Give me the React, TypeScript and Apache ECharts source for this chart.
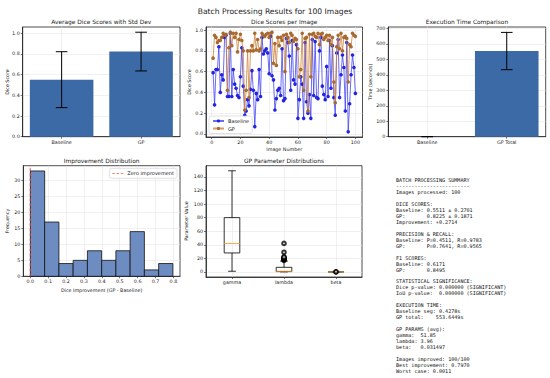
import React, { useEffect, useRef } from 'react';
import * as echarts from 'echarts';

const W = 550;
const H = 378;

// ---------- data ----------
const diceCategories = ['Baseline', 'GP'];
const diceMeans = [0.5511, 0.8225];
const diceStds = [0.2701, 0.1871];

const timeCategories = ['Baseline', 'GP Total'];
const timeMeans = [0.4278, 553.6449];
const timeStds = [0.05, 120.5];

const baselineDice = [
  0.59, 0.28, 0.62, 0.62, 0.84, 0.40, 0.57, 0.52, 0.93, 0.95,
  0.36, 0.36, 0.97, 0.36, 0.62, 0.48, 0.44, 0.37, 0.35, 0.55,
  0.83, 0.46, 0.18, 0.22, 0.33, 0.27, 0.43, 0.61, 0.42, 0.07,
  0.39, 0.33, 0.62, 0.36, 0.93, 0.77, 0.80, 0.82, 0.78, 0.58,
  0.94, 0.56, 0.52, 0.23, 0.34, 0.42, 0.44, 0.37, 0.82, 0.32,
  0.34, 0.92, 0.88, 0.75, 0.42, 0.90, 0.52, 0.48, 0.86, 0.15,
  0.33, 0.55, 0.48, 0.15, 0.88, 0.31, 0.20, 0.38, 0.15, 0.91,
  0.37, 0.89, 0.35, 0.34, 0.80, 0.93, 0.46, 0.38, 0.33, 0.65,
  0.36, 0.90, 0.44, 0.85, 0.35, 0.18, 0.78, 0.91, 0.35, 0.57,
  0.76, 0.64, 0.22, 0.88, 0.02, 0.29, 0.57, 0.76, 0.64, 0.39,
];

const gpDice = [
  0.73, 0.95, 0.93, 0.88, 0.90, 0.90, 0.93, 0.97, 0.95, 0.96,
  0.42, 0.83, 0.98, 0.85, 0.97, 0.93, 0.97, 0.79, 0.91, 0.96,
  0.90, 0.80, 0.23, 0.42, 0.80, 0.35, 0.80, 0.85, 0.80, 0.97,
  0.81, 0.91, 0.80, 0.82, 0.97, 0.95, 0.94, 0.96, 0.97, 0.93,
  0.97, 0.98, 0.68, 0.87, 0.66, 0.93, 0.85, 0.93, 0.90, 0.95,
  0.60, 0.96, 0.93, 0.88, 0.97, 0.95, 0.89, 0.92, 0.91, 0.82,
  0.55, 0.62, 0.97, 0.42, 0.92, 0.93, 0.22, 0.96, 0.55, 0.96,
  0.97, 0.94, 0.93, 0.97, 0.86, 0.96, 0.97, 0.91, 0.93, 0.95,
  0.90, 0.95, 0.86, 0.93, 0.50, 0.30, 0.84, 0.95, 0.82, 0.97,
  0.80, 0.93, 0.94, 0.92, 0.50, 0.86, 0.84, 0.97, 0.95, 0.94,
];

const histEdges = [0.0011, 0.0807, 0.1603, 0.2399, 0.3195, 0.3991, 0.4786, 0.5582, 0.6378, 0.7174, 0.797];
const histCounts = [33, 17, 4, 5, 8, 5, 8, 14, 2, 4];

const paramNames = ['gamma', 'lambda', 'beta'];
// [min, q1, median, q3, max]
const paramBoxStats = [
  [1, 28, 42, 80, 149],
  [0.1, 0.5, 1.0, 6.8, 16],
  [0.005, 0.02, 0.03, 0.04, 0.06],
];
const paramOutliers = [
  [],
  [17, 18, 18.6, 19.2, 19.8, 20.5, 21.3, 22, 29, 42],
  [0.12, 0.2],
];

const diceTicks = [0, 0.2, 0.4, 0.6, 0.8, 1.0];
const imageTicks = [0, 20, 40, 60, 80, 100];
const timeTicks = [0, 100, 200, 300, 400, 500, 600, 700];
const histXTicks = [0, 0.1, 0.2, 0.3, 0.4, 0.5, 0.6, 0.7, 0.8];
const histYTicks = [0, 5, 10, 15, 20, 25, 30];
const paramTicks = [0, 20, 40, 60, 80, 100, 120, 140];

const summaryLines = [
  'BATCH PROCESSING SUMMARY',
  '------------------------',
  'Images processed: 100',
  '',
  'DICE SCORES:',
  'Baseline: 0.5511 ± 0.2701',
  'GP:       0.8225 ± 0.1871',
  'Improvement: +0.2714',
  '',
  'PRECISION & RECALL:',
  'Baseline: P=0.4511, R=0.9783',
  'GP:       P=0.7641, R=0.9565',
  '',
  'F1 SCORES:',
  'Baseline: 0.6171',
  'GP:       0.8495',
  '',
  'STATISTICAL SIGNIFICANCE:',
  'Dice p-value: 0.000000 (SIGNIFICANT)',
  'IoU p-value:  0.000000 (SIGNIFICANT)',
  '',
  'EXECUTION TIME:',
  'Baseline seg: 0.4278s',
  'GP total:    553.6449s',
  '',
  'GP PARAMS (avg):',
  'gamma:  51.85',
  'lambda: 3.96',
  'beta:   0.031497',
  '',
  'Images improved: 100/100',
  'Best improvement: 0.7970',
  'Worst case: 0.0011',
];

// ---------- style helpers ----------
const FONT = 'DejaVu Sans';
const TXT = '#222';
const BAR = '#3b6aa6';
const HIST = '#6d8dc2';
const TICK_FS = 4.8;

const grids = [
  { left: 22.7, top: 27, width: 157.3, height: 109.7 },
  { left: 206, top: 27, width: 156.5, height: 110 },
  { left: 388.3, top: 27, width: 157.4, height: 109.7 },
  { left: 23.3, top: 165.7, width: 156.7, height: 110.6 },
  { left: 206, top: 165.7, width: 156, height: 111.3 },
];

function vAxis(gridIndex: number, min: number, max: number, ticks: number[], fmt: (v: number) => string) {
  return {
    type: 'value',
    gridIndex,
    min,
    max,
    axisLine: { show: true, onZero: false, lineStyle: { color: TXT, width: 0.8 } },
    axisTick: { show: true, length: 2, customValues: ticks, lineStyle: { color: TXT, width: 0.6 } },
    axisLabel: {
      show: true,
      customValues: ticks,
      formatter: (v: number) => fmt(v),
      fontSize: TICK_FS,
      color: TXT,
      margin: 3,
      fontFamily: FONT,
    },
    splitLine: { show: true, lineStyle: { color: '#e6e6e6', width: 0.6 } },
  };
}

const f1 = (v: number) => v.toFixed(1);
const f0 = (v: number) => String(Math.round(v));

function barRender(color: string) {
  return (params: any, api: any) => {
    const i = api.value(0);
    const v = api.value(1);
    const p0 = api.coord([i - 0.4, v]);
    const p1 = api.coord([i + 0.4, 0]);
    return {
      type: 'rect',
      shape: { x: p0[0], y: p0[1], width: p1[0] - p0[0], height: p1[1] - p0[1] },
      style: { fill: color },
    };
  };
}

function errRender(params: any, api: any) {
  const i = api.value(0);
  const lo = api.coord([i, api.value(1)]);
  const hi = api.coord([i, api.value(2)]);
  const c = 5.8;
  const st = { stroke: '#000', lineWidth: 1 };
  return {
    type: 'group',
    children: [
      { type: 'line', shape: { x1: lo[0], y1: lo[1], x2: hi[0], y2: hi[1] }, style: st },
      { type: 'line', shape: { x1: lo[0] - c, y1: lo[1], x2: lo[0] + c, y2: lo[1] }, style: st },
      { type: 'line', shape: { x1: hi[0] - c, y1: hi[1], x2: hi[0] + c, y2: hi[1] }, style: st },
    ],
  };
}

function histRender(params: any, api: any) {
  const p0 = api.coord([api.value(0), api.value(2)]);
  const p1 = api.coord([api.value(1), 0]);
  return {
    type: 'rect',
    shape: { x: p0[0], y: p0[1], width: p1[0] - p0[0], height: p1[1] - p0[1] },
    style: { fill: HIST, stroke: '#111', lineWidth: 0.8 },
  };
}

function boxRender(params: any, api: any) {
  const x = api.value(0);
  const cx = api.coord([x, 0])[0];
  const half = api.size([1, 0])[0] * 0.15;
  const capHalf = half * 0.5;
  const y = (k: number) => api.coord([x, api.value(k)])[1];
  const yMin = y(1), yQ1 = y(2), yMed = y(3), yQ3 = y(4), yMax = y(5);
  const st = { stroke: '#000', lineWidth: 0.8 };
  return {
    type: 'group',
    children: [
      { type: 'line', shape: { x1: cx, y1: yQ1, x2: cx, y2: yMin }, style: st },
      { type: 'line', shape: { x1: cx, y1: yQ3, x2: cx, y2: yMax }, style: st },
      { type: 'line', shape: { x1: cx - capHalf, y1: yMin, x2: cx + capHalf, y2: yMin }, style: st },
      { type: 'line', shape: { x1: cx - capHalf, y1: yMax, x2: cx + capHalf, y2: yMax }, style: st },
      {
        type: 'rect',
        shape: { x: cx - half, y: yQ3, width: 2 * half, height: yQ1 - yQ3 },
        style: { fill: 'none', stroke: '#000', lineWidth: 0.8 },
      },
      { type: 'line', shape: { x1: cx - half, y1: yMed, x2: cx + half, y2: yMed }, style: { stroke: '#f0a030', lineWidth: 0.9 } },
    ],
  };
}

function txt(text: string, x: number, y: number, fontSize: number, rotation = 0, extra: any = {}) {
  return {
    type: 'text',
    x,
    y,
    rotation,
    style: {
      text,
      x: 0,
      y: 0,
      align: 'center',
      verticalAlign: 'middle',
      fontSize,
      fontFamily: FONT,
      fill: TXT,
      ...extra,
    },
  };
}

const legendCommon = {
  orient: 'vertical',
  itemWidth: 11,
  itemHeight: 4,
  itemGap: 2.5,
  padding: [2.5, 3],
  borderColor: '#ccc',
  borderWidth: 0.6,
  borderRadius: 2,
  backgroundColor: 'rgba(255,255,255,0.85)',
  selectedMode: false,
  textStyle: { fontSize: 5, color: TXT, fontFamily: FONT, padding: [0, 0, 0, -1] },
};

const option: any = {
  animation: false,
  backgroundColor: '#fff',
  textStyle: { fontFamily: FONT },
  grid: grids.map((g) => ({ ...g, show: true, borderColor: TXT, borderWidth: 0.8, backgroundColor: 'transparent' })),
  xAxis: [
    vAxis(0, -0.49, 1.49, [0, 1], (v) => diceCategories[Math.round(v)] || ''),
    vAxis(1, -3.95, 104.95, imageTicks, f0),
    vAxis(2, -0.49, 1.49, [0, 1], (v) => timeCategories[Math.round(v)] || ''),
    vAxis(3, -0.0387, 0.8368, histXTicks, f1),
    vAxis(4, 0.5, 3.5, [1, 2, 3], (v) => paramNames[Math.round(v) - 1] || ''),
  ],
  yAxis: [
    vAxis(0, 0, 1.06, diceTicks, f1),
    vAxis(1, -0.03, 1.03, diceTicks, f1),
    vAxis(2, 0, 709, timeTicks, f0),
    vAxis(3, 0, 34.65, histYTicks, f0),
    vAxis(4, -7.45, 156.5, paramTicks, f0),
  ],
  legend: [
    { ...legendCommon, data: ['Baseline', 'GP'], left: 209, top: 116 },
    {
      ...legendCommon,
      data: [{ name: 'Zero improvement', icon: 'path://M0,1 L3,1 L3,2 L0,2 Z M5,1 L8,1 L8,2 L5,2 Z M10,1 L13,1 L13,2 L10,2 Z' }],
      itemHeight: 1.5,
      right: W - 177,
      top: 168.3,
    },
  ],
  graphic: [
    txt('Batch Processing Results for 100 Images', 275, 11, 7.6),
    txt('Average Dice Scores with Std Dev', 101.3, 21.5, 5.9),
    txt('Dice Scores per Image', 284.2, 21.5, 5.9),
    txt('Execution Time Comparison', 467, 21.5, 5.9),
    txt('Improvement Distribution', 101.6, 161, 5.9),
    txt('GP Parameter Distributions', 284, 161, 5.9),
    txt('Dice Score', 7.5, 82, TICK_FS, Math.PI / 2),
    txt('Dice Score', 189.5, 82, TICK_FS, Math.PI / 2),
    txt('Time (seconds)', 370.5, 82, TICK_FS, Math.PI / 2),
    txt('Image Number', 284.2, 149.3, TICK_FS),
    txt('Frequency', 7.5, 221, TICK_FS, Math.PI / 2),
    txt('Dice Improvement (GP - Baseline)', 101.6, 290, TICK_FS),
    txt('Parameter Value', 186.5, 221, TICK_FS, Math.PI / 2),
    {
      type: 'text',
      x: 396,
      y: 177,
      style: {
        text: summaryLines.join('\n'),
        x: 0,
        y: 0,
        align: 'left',
        verticalAlign: 'top',
        fontSize: 5.1,
        lineHeight: 5.97,
        fontFamily: 'DejaVu Sans Mono',
        fill: '#111',
      },
    },
  ],
  series: [
    {
      type: 'custom',
      xAxisIndex: 0,
      yAxisIndex: 0,
      renderItem: barRender(BAR),
      encode: { x: 0, y: 1 },
      data: diceMeans.map((m, i) => [i, m]),
    },
    {
      type: 'custom',
      xAxisIndex: 0,
      yAxisIndex: 0,
      renderItem: errRender,
      encode: { x: 0, y: [1, 2] },
      data: diceMeans.map((m, i) => [i, m - diceStds[i], m + diceStds[i]]),
      z: 5,
    },
    {
      type: 'line',
      name: 'Baseline',
      xAxisIndex: 1,
      yAxisIndex: 1,
      data: baselineDice.map((v, i) => [i + 1, v]),
      symbol: 'circle',
      symbolSize: 3.6,
      itemStyle: { color: '#2424e0' },
      lineStyle: { color: '#3a3af2', width: 1, opacity: 0.75 },
      z: 2,
    },
    {
      type: 'line',
      name: 'GP',
      xAxisIndex: 1,
      yAxisIndex: 1,
      data: gpDice.map((v, i) => [i + 1, v]),
      symbol: 'circle',
      symbolSize: 3.6,
      itemStyle: { color: '#a86a30' },
      lineStyle: { color: '#cc8540', width: 1, opacity: 0.8 },
      z: 3,
    },
    {
      type: 'custom',
      xAxisIndex: 2,
      yAxisIndex: 2,
      renderItem: barRender(BAR),
      encode: { x: 0, y: 1 },
      data: timeMeans.map((m, i) => [i, m]),
    },
    {
      type: 'custom',
      xAxisIndex: 2,
      yAxisIndex: 2,
      renderItem: errRender,
      encode: { x: 0, y: [1, 2] },
      data: timeMeans.map((m, i) => [i, Math.max(0, m - timeStds[i]), m + timeStds[i]]),
      z: 5,
    },
    {
      type: 'custom',
      xAxisIndex: 3,
      yAxisIndex: 3,
      renderItem: histRender,
      encode: { x: [0, 1], y: 2 },
      data: histCounts.map((c, i) => [histEdges[i], histEdges[i + 1], c]),
    },
    {
      type: 'line',
      name: 'Zero improvement',
      xAxisIndex: 3,
      yAxisIndex: 3,
      data: [[0, 0], [0, 34.65]],
      symbol: 'none',
      lineStyle: { color: '#e0453a', width: 1, type: [3, 2] },
      itemStyle: { color: '#d9692e' },
      z: 6,
    },
    {
      type: 'custom',
      xAxisIndex: 4,
      yAxisIndex: 4,
      renderItem: boxRender,
      encode: { x: 0, y: [1, 2, 3, 4, 5] },
      data: paramBoxStats.map((s, i) => [i + 1, ...s]),
    },
    {
      type: 'scatter',
      xAxisIndex: 4,
      yAxisIndex: 4,
      symbol: 'emptyCircle',
      symbolSize: 3.6,
      itemStyle: { color: '#000', borderColor: '#000', borderWidth: 0.7 },
      data: paramOutliers.flatMap((arr, i) => arr.map((v) => [i + 1, v])),
      z: 4,
    },
  ],
};

export default function App() {
  const ref = useRef<HTMLDivElement>(null);
  useEffect(() => {
    if (!ref.current) return;
    const chart = echarts.init(ref.current, null, { renderer: 'svg', width: W, height: H });
    chart.setOption(option);
    return () => chart.dispose();
  }, []);
  return (
    <div
      ref={ref}
      style={{ position: 'absolute', left: 0, top: 0, width: W, height: H, background: '#fff' }}
    />
  );
}
